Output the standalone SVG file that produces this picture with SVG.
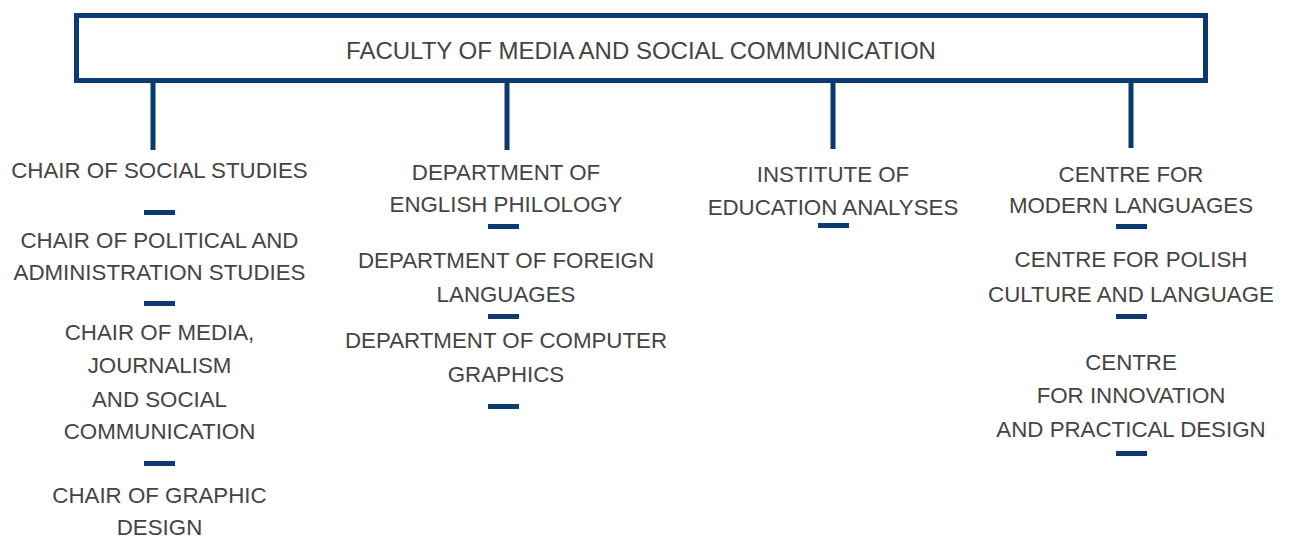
<svg xmlns="http://www.w3.org/2000/svg" width="1290" height="542" viewBox="0 0 1290 542">
<style>
.t{font-family:"Liberation Sans",Arial,sans-serif;font-size:22.3px;fill:#444;text-anchor:middle}
.ln{stroke:#0a3a6e;stroke-width:5;fill:none}
.d{fill:#0a3a6e}
</style>
<rect width="1290" height="542" fill="#fff"/>
<g id="faculty">
<rect x="76.5" y="15.5" width="1129" height="65" fill="#fff" stroke="#0a3a6e" stroke-width="5"/>
<text class="t" x="641" y="59" style="font-size:24px">FACULTY OF MEDIA AND SOCIAL COMMUNICATION</text>
</g>
<g id="connectors">
<line class="ln" x1="153" y1="83" x2="153" y2="150"/>
<line class="ln" x1="507" y1="83" x2="507" y2="150"/>
<line class="ln" x1="833" y1="83" x2="833" y2="149"/>
<line class="ln" x1="1131" y1="83" x2="1131" y2="148"/>
<rect class="d" x="144" y="210" width="31" height="5"/>
<rect class="d" x="144" y="301" width="31" height="5"/>
<rect class="d" x="144" y="461" width="31" height="5"/>
<rect class="d" x="488" y="224" width="31" height="5"/>
<rect class="d" x="488" y="314" width="31" height="5"/>
<rect class="d" x="488" y="404" width="31" height="5"/>
<rect class="d" x="818" y="223" width="31" height="5"/>
<rect class="d" x="1116" y="224" width="31" height="5"/>
<rect class="d" x="1116" y="314" width="31" height="5"/>
<rect class="d" x="1116" y="451" width="31" height="5"/>
</g>
<g id="chair-social"><text class="t" x="159.5" y="178">CHAIR OF SOCIAL STUDIES</text></g>
<g id="chair-political"><text class="t" x="159.5" y="248">CHAIR OF POLITICAL AND</text><text class="t" x="159.5" y="280">ADMINISTRATION STUDIES</text></g>
<g id="chair-media"><text class="t" x="159.5" y="340">CHAIR OF MEDIA,</text><text class="t" x="159.5" y="373">JOURNALISM</text><text class="t" x="159.5" y="407">AND SOCIAL</text><text class="t" x="159.5" y="439">COMMUNICATION</text></g>
<g id="chair-graphic"><text class="t" x="159.5" y="503">CHAIR OF GRAPHIC</text><text class="t" x="159.5" y="535">DESIGN</text></g>
<g id="dept-english"><text class="t" x="506" y="180">DEPARTMENT OF</text><text class="t" x="506" y="212">ENGLISH PHILOLOGY</text></g>
<g id="dept-foreign"><text class="t" x="506" y="268">DEPARTMENT OF FOREIGN</text><text class="t" x="506" y="302">LANGUAGES</text></g>
<g id="dept-computer"><text class="t" x="506" y="348">DEPARTMENT OF COMPUTER</text><text class="t" x="506" y="382">GRAPHICS</text></g>
<g id="institute"><text class="t" x="833" y="182">INSTITUTE OF</text><text class="t" x="833" y="215">EDUCATION ANALYSES</text></g>
<g id="centre-modern"><text class="t" x="1131" y="182">CENTRE FOR</text><text class="t" x="1131" y="213">MODERN LANGUAGES</text></g>
<g id="centre-polish"><text class="t" x="1131" y="267">CENTRE FOR POLISH</text><text class="t" x="1131" y="302">CULTURE AND LANGUAGE</text></g>
<g id="centre-innovation"><text class="t" x="1131" y="370">CENTRE</text><text class="t" x="1131" y="403">FOR INNOVATION</text><text class="t" x="1131" y="437">AND PRACTICAL DESIGN</text></g>
</svg>
